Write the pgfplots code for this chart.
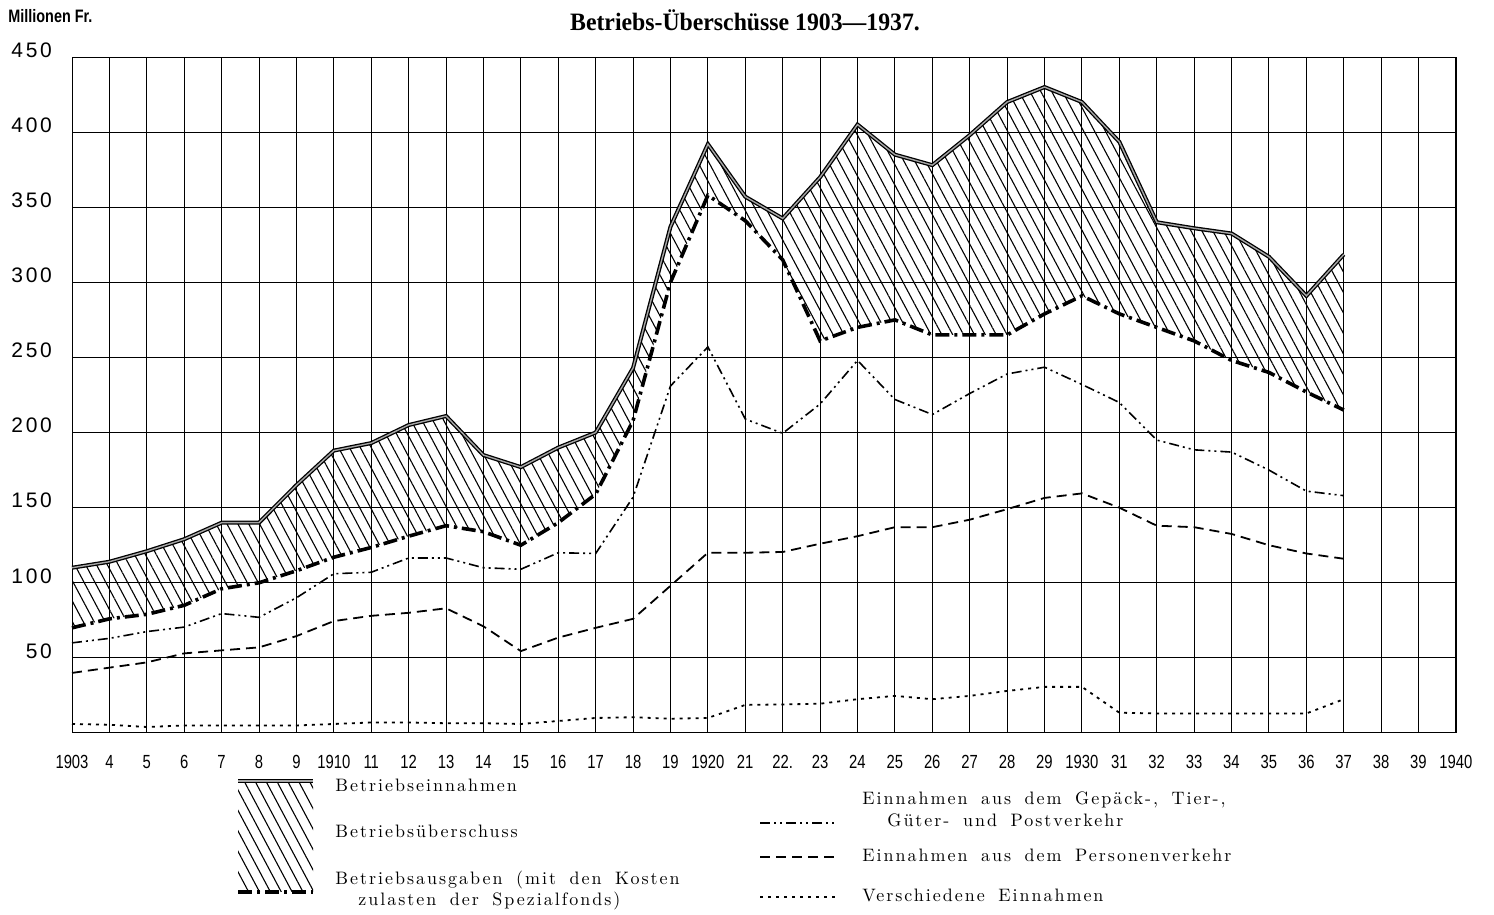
\documentclass[border=0pt]{standalone}
\usepackage{fontspec}
\usepackage{pgfplots}
\usepackage{pgfplotstable}
\pgfplotsset{compat=1.18}
\usepgfplotslibrary{fillbetween}
\usetikzlibrary{patterns.meta}
\newfontfamily\xtickfont[FakeStretch=0.78]{Liberation Sans}
\newfontfamily\ytickfont[LetterSpace=13]{Liberation Sans}
\newfontfamily\headfont[FakeStretch=0.8]{Liberation Sans}
\newfontfamily\titlefont[FakeStretch=0.95]{Liberation Serif}
\newfontfamily\legfont{lmroman10-regular.otf}[LetterSpace=11, WordSpace=1.7]

% Millionen Fr.
\pgfplotstableread{
year ein aus gep pers versch
1903 110 70 60 40 6
1904 114 76 63 43.5 5.5
1905 121 79 67.5 47 4
1906 129 85 70.5 53 5
1907 140 96 79.5 55 5
1908 140 100 77 57 5
1909 165 108 90 64.5 5
1910 188 117 106 74.5 6
1911 193 123.5 107 78 7
1912 205 131 116.5 80 7
1913 211 138 116.5 83 6.5
1914 185 134 110 71 6.5
1915 177 125 109 54.5 6
1916 190 140 120 63.5 8
1917 200 159 119.5 70 10
1918 243 208 157 76 10.5
1919 337 300 231 98 9.5
1920 392 358 257 120 10
1921 357 341 209 120 18.7
1922 342.5 315 199.5 120.5 19
1923 370 261 219 126 19.5
1924 405 270 248 131 22.5
1925 385 275 222 137 24.7
1926 378 265 212 137 22.5
1927 398 265 226 142 24.7
1928 420 265 239 149 28
1929 430 279 243.5 156.5 30.7
1930 420 291 232 159.5 30.7
1931 393.5 279 220 150 13.5
1932 340 270 195 138 13
1933 336 261 188.5 137 13
1934 332.5 248 187 132.5 13
1935 317 240 175 125 13
1936 291 227 161 119.5 13
1937 318.5 215 158 116 22.5
}\data

\tikzset{
  hatch/.style={pattern={Lines[angle=-62,distance=4.8pt,line width=0.55pt]}},
  einn/.style={black, line width=2pt},
  einncore/.style={gray!70, line width=0.7pt},
  ausg/.style={black, line width=1.8pt, dash pattern=on 7pt off 2.5pt on 1.5pt off 2.5pt},
  gepl/.style={black, line width=0.8pt, dash pattern=on 5pt off 2pt on 1pt off 2pt on 1pt off 2pt},
  persl/.style={black, line width=0.9pt, dash pattern=on 5pt off 3pt},
  verl/.style={black, line width=0.9pt, dash pattern=on 1.5pt off 2.5pt},
}

\begin{document}
\begin{tikzpicture}
\begin{axis}[
  name=ax, at={(0,0)}, anchor=south west,
  scale only axis,
  width=692pt, height=338pt,
  xmin=1903, xmax=1940, ymin=0, ymax=450,
  xtick={1903,...,1940},
  xticklabels={1903,4,5,6,7,8,9,1910,11,12,13,14,15,16,17,18,19,1920,21,22.,23,24,25,26,27,28,29,1930,31,32,33,34,35,36,37,38,39,1940},
  ytick={50,100,...,450},
  yticklabels={50,100,150,200,250,300,350,400,450},
  grid=major,
  major grid style={black, line width=0.5pt},
  axis line style={black, line width=0.5pt},
  major tick length=0pt,
  x tick label style={font=\xtickfont\fontsize{9.5}{10}\selectfont, anchor=center, yshift=-14.5pt},
  y tick label style={font=\ytickfont\fontsize{10.5}{11}\selectfont, anchor=east, xshift=-6.5pt, yshift=3.5pt},
  clip=false,
]
\addplot[draw=none, name path=ein, forget plot] table[x=year, y=ein] {\data};
\addplot[draw=none, name path=aus, forget plot] table[x=year, y=aus] {\data};
\addplot[hatch, draw=none] fill between[of=ein and aus];
\addplot[gepl] table[x=year, y=gep] {\data};
\addplot[persl] table[x=year, y=pers] {\data};
\addplot[verl] table[x=year, y=versch] {\data};
\addplot[ausg] table[x=year, y=aus] {\data};
\addplot[einn] table[x=year, y=ein] {\data};
\addplot[einncore] table[x=year, y=ein] {\data};
\end{axis}

% header
\node[anchor=west, inner sep=0pt, font=\headfont\bfseries\fontsize{9}{11}\selectfont] at (-32pt,358.5pt) {Millionen Fr.};
\node[font=\titlefont\bfseries\fontsize{12.5}{13}\selectfont] at (336.5pt,356.5pt) {Betriebs-Überschüsse 1903—1937.};

% legend
\fill[hatch] (83pt,-24pt) rectangle (120.5pt,-79.5pt);
\draw[einn] (83pt,-24pt) -- (120.5pt,-24pt);
\draw[einncore] (83pt,-24pt) -- (120.5pt,-24pt);
\draw[ausg] (83pt,-79.5pt) -- (120.5pt,-79.5pt);
\begin{scope}[every node/.style={anchor=base west, inner sep=0pt, font=\legfont\fontsize{9}{10}\selectfont}]
\node at (131.5pt,-29.5pt) {Betriebseinnahmen};
\node at (131.5pt,-52.5pt) {Betriebsüberschuss};
\node at (131.5pt,-76pt) {Betriebsausgaben (mit den Kosten};
\node at (143pt,-86.5pt) {zulasten der Spezialfonds)};
\node at (395pt,-36pt) {Einnahmen aus dem Gepäck-, Tier-,};
\node at (407.5pt,-47pt) {Güter- und Postverkehr};
\node at (395pt,-64.5pt) {Einnahmen aus dem Personenverkehr};
\node at (395pt,-84.5pt) {Verschiedene Einnahmen};
\end{scope}
\draw[gepl] (344pt,-45pt) -- (381.5pt,-45pt);
\draw[persl] (344pt,-62pt) -- (381.5pt,-62pt);
\draw[verl] (344pt,-82pt) -- (381.5pt,-82pt);

\pgfresetboundingbox
\useasboundingbox (-36pt,-91pt) rectangle (711pt,366.5pt);
\end{tikzpicture}
\end{document}
